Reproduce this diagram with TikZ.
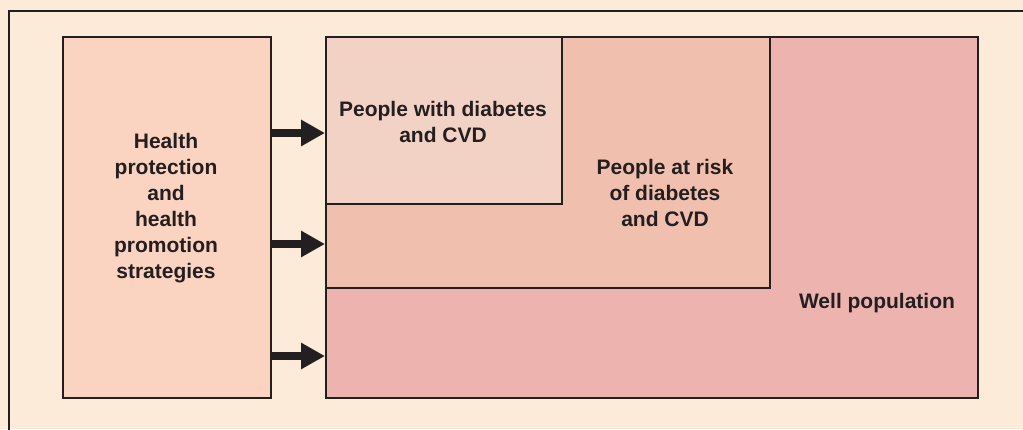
\documentclass[tikz,border=0pt]{standalone}
\usepackage{fontspec}
\setmainfont{Liberation Sans}
\usetikzlibrary{arrows.meta}
\definecolor{bgc}{HTML}{FDEBD9}
\definecolor{leftc}{HTML}{FBD3C1}
\definecolor{onec}{HTML}{F3D2C6}
\definecolor{twoc}{HTML}{F0BFAE}
\definecolor{wellc}{HTML}{EDB4AF}
\definecolor{ink}{HTML}{231F20}
\begin{document}
\begin{tikzpicture}[x=1pt,y=-1pt,
  boxstyle/.style={draw=ink,line width=2pt,inner sep=0pt,anchor=north west},
  txt/.style={font=\bfseries\fontsize{21}{26}\selectfont,text=ink,align=center,inner sep=0pt},
  bigarrow/.style={draw=ink,line width=8pt,-{Triangle[length=24pt,width=25pt]}}]
\fill[bgc] (0,0) rectangle (1023,429);
\useasboundingbox (0,0) rectangle (1023,429);
\draw[ink,line width=2pt] (9,431) -- (9,11) -- (1025,11);
\node[boxstyle,fill=leftc,minimum width=208pt,minimum height=361pt] (left) at (62,36) {};
\node[boxstyle,fill=wellc,minimum width=652pt,minimum height=361pt] (well) at (325,36) {};
\node[boxstyle,fill=twoc,minimum width=444pt,minimum height=251pt] (risk) at (325,36) {};
\node[boxstyle,fill=onec,minimum width=236pt,minimum height=167pt] (dia) at (325,36) {};
\node[txt] (lefttxt) at (166,208) {Health\\protection\\and\\health\\promotion\\strategies};
\node[txt] (diatxt) at (443,122) {People with diabetes\\and CVD};
\node[txt] (risktxt) at (665,193) {People at risk\\of diabetes\\and CVD};
\node[txt] (welltxt) at (877,303) {Well population};
\coordinate (a1) at (270,133);
\coordinate (a2) at (270,244);
\coordinate (a3) at (270,356);
\draw[bigarrow] (a1) -- (well.west |- a1);
\draw[bigarrow] (a2) -- (well.west |- a2);
\draw[bigarrow] (a3) -- (well.west |- a3);
\end{tikzpicture}
\end{document}
